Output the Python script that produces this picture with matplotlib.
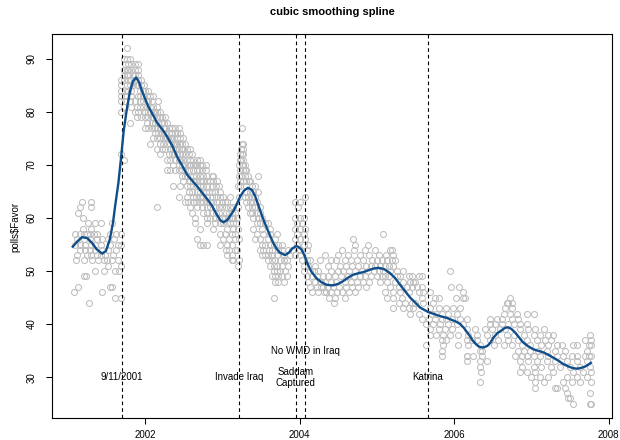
import matplotlib
matplotlib.use("Agg")
import matplotlib.pyplot as plt

plt.rcParams['font.family'] = ['Liberation Sans', 'DejaVu Sans']
plt.rcParams['lines.scale_dashes'] = False

# ---- data ----
# Poll values (integer "Favor") and the decimal-year dates at which each value occurs
favor_levels = [92, 90, 89, 88, 87, 86, 85, 84, 83, 82, 81, 80, 79, 78, 77, 76, 75, 74, 73, 72,
                71, 70, 69, 68, 67, 66, 65, 64, 63, 62, 61, 60, 59, 58, 57, 56, 55, 54, 53, 52,
                51, 50, 49, 48, 47, 46, 45, 44, 43, 42, 41, 40, 39, 38, 37, 36, 35, 34, 33, 32,
                31, 30, 29, 28, 27, 26, 25]
dates_by_level = [
    [2001.76],
    [2001.72, 2001.76, 2001.80],
    [2001.74, 2001.78, 2001.82, 2001.87, 2001.91],
    [2001.72, 2001.76, 2001.78, 2001.82, 2001.87, 2001.91],
    [2001.72, 2001.76, 2001.78, 2001.84, 2001.87, 2001.91],
    [2001.69, 2001.72, 2001.78, 2001.82, 2001.87, 2001.91, 2001.95],
    [2001.69, 2001.76, 2001.80, 2001.84, 2001.89, 2001.91, 2001.95, 2001.98],
    [2001.69, 2001.74, 2001.78, 2001.82, 2001.93, 2001.97, 2001.99, 2002.04],
    [2001.69, 2001.74, 2001.82, 2001.91, 2001.93, 2001.97, 2002.02, 2002.06, 2002.10],
    [2001.69, 2001.74, 2001.80, 2001.87, 2001.93, 2001.97, 2002.02, 2002.04, 2002.08, 2002.17],
    [2001.72, 2001.82, 2001.89, 2001.93, 2001.97, 2002.02, 2002.06, 2002.10, 2002.15],
    [2001.69, 2001.87, 2001.91, 2002.00, 2002.04, 2002.06, 2002.10, 2002.13, 2002.15, 2002.19],
    [2001.89, 2001.95, 2002.00, 2002.04, 2002.08, 2002.10, 2002.15, 2002.19, 2002.21, 2002.26],
    [2001.80, 2002.02, 2002.08, 2002.12, 2002.13, 2002.17, 2002.21, 2002.24, 2002.28],
    [2002.00, 2002.04, 2002.08, 2002.13, 2002.15, 2002.19, 2002.24, 2002.26, 2002.30, 2002.34,
     2002.39, 2002.43, 2003.25],
    [2002.13, 2002.17, 2002.21, 2002.22, 2002.26, 2002.30, 2002.34, 2002.39, 2002.41, 2002.45],
    [2002.10, 2002.15, 2002.19, 2002.23, 2002.26, 2002.28, 2002.32, 2002.35, 2002.37, 2002.41,
     2002.45, 2002.49],
    [2002.06, 2002.19, 2002.23, 2002.28, 2002.32, 2002.36, 2002.39, 2002.41, 2002.45, 2002.47,
     2002.51, 2003.25, 2003.27],
    [2002.15, 2002.21, 2002.26, 2002.32, 2002.36, 2002.39, 2002.43, 2002.47, 2002.49, 2002.54,
     2002.58, 2003.24, 2003.27],
    [2001.69, 2002.19, 2002.30, 2002.34, 2002.37, 2002.41, 2002.45, 2002.47, 2002.51, 2002.56,
     2002.60, 2003.22, 2003.25, 2003.27],
    [2001.72, 2002.28, 2002.32, 2002.39, 2002.43, 2002.45, 2002.49, 2002.54, 2002.58, 2002.62,
     2002.67, 2002.71, 2003.22, 2003.24, 2003.27],
    [2002.36, 2002.43, 2002.47, 2002.51, 2002.56, 2002.58, 2002.62, 2002.64, 2002.67, 2002.71,
     2002.74, 2002.78, 2003.21, 2003.25, 2003.27, 2003.29],
    [2002.28, 2002.32, 2002.39, 2002.43, 2002.47, 2002.51, 2002.56, 2002.62, 2002.67, 2002.69,
     2002.73, 2002.78, 2003.23, 2003.27, 2003.29, 2003.31],
    [2002.47, 2002.51, 2002.54, 2002.58, 2002.62, 2002.66, 2002.71, 2002.75, 2002.80, 2002.86,
     2002.88, 2003.21, 2003.24, 2003.29, 2003.33, 2003.46],
    [2002.49, 2002.58, 2002.62, 2002.66, 2002.71, 2002.75, 2002.80, 2002.84, 2002.88, 2002.93,
     2003.22, 2003.27, 2003.31, 2003.34, 2003.36],
    [2002.36, 2002.45, 2002.54, 2002.58, 2002.62, 2002.67, 2002.71, 2002.75, 2002.80, 2002.86,
     2002.92, 2002.95, 2003.20, 2003.23, 2003.31, 2003.38, 2003.42],
    [2002.56, 2002.60, 2002.67, 2002.71, 2002.75, 2002.78, 2002.82, 2002.86, 2002.90, 2002.97,
     2003.31, 2003.36, 2003.40, 2003.46],
    [2002.43, 2002.54, 2002.62, 2002.66, 2002.71, 2002.75, 2002.80, 2002.86, 2002.92, 2002.97,
     2003.01, 2003.10, 2003.21, 2003.29, 2003.33, 2003.38, 2003.42, 2004.07],
    [2001.18, 2001.29, 2002.52, 2002.55, 2002.62, 2002.66, 2002.71, 2002.75, 2002.80, 2002.84,
     2002.88, 2002.93, 2002.99, 2003.03, 2003.06, 2003.31, 2003.35, 2003.40, 2003.44, 2003.94,
     2004.00],
    [2001.15, 2001.29, 2002.15, 2002.58, 2002.67, 2002.73, 2002.80, 2002.84, 2002.90, 2002.95,
     2002.99, 2003.04, 2003.10, 2003.14, 2003.20, 2003.33, 2003.38, 2003.42, 2003.48, 2003.98],
    [2001.13, 2002.60, 2002.75, 2002.80, 2002.86, 2002.91, 2002.95, 2003.04, 2003.08, 2003.12,
     2003.16, 2003.35, 2003.38, 2003.44, 2003.49],
    [2001.19, 2002.64, 2002.80, 2002.84, 2002.90, 2002.95, 2002.99, 2003.03, 2003.08, 2003.12,
     2003.14, 2003.19, 2003.40, 2003.46, 2003.51, 2003.94, 2004.00, 2004.05],
    [2001.26, 2001.35, 2001.42, 2001.57, 2002.64, 2002.80, 2002.90, 2002.97, 2003.01, 2003.06,
     2003.10, 2003.14, 2003.18, 2003.44, 2003.49, 2003.55, 2003.59, 2003.96, 2004.03],
    [2001.19, 2001.30, 2002.71, 2002.88, 2003.06, 2003.14, 2003.20, 2003.40, 2003.51, 2003.62,
     2003.94, 2004.00, 2004.07],
    [2001.09, 2001.15, 2001.20, 2001.24, 2001.28, 2001.33, 2001.37, 2001.54, 2001.62, 2001.69,
     2002.97, 2003.03, 2003.12, 2003.16, 2003.44, 2003.53, 2003.62, 2003.70, 2003.96, 2004.05,
     2005.08],
    [2001.11, 2001.20, 2001.28, 2001.37, 2001.44, 2001.52, 2001.60, 2002.67, 2003.01, 2003.08,
     2003.16, 2003.21, 2003.42, 2003.49, 2003.59, 2003.68, 2003.94, 2004.00, 2004.07, 2004.69],
    [2001.09, 2001.15, 2001.22, 2001.30, 2001.35, 2001.43, 2001.54, 2001.65, 2001.69, 2002.71,
     2002.75, 2002.80, 2002.97, 2003.06, 2003.12, 2003.51, 2003.55, 2003.62, 2003.66, 2003.72,
     2003.77, 2003.96, 2004.05, 2004.11, 2004.71, 2004.89],
    [2001.15, 2001.22, 2001.28, 2001.35, 2001.44, 2001.52, 2001.62, 2003.04, 2003.08, 2003.16,
     2003.19, 2003.49, 2003.53, 2003.60, 2003.64, 2003.72, 2003.77, 2003.85, 2003.90, 2004.00,
     2004.09, 2004.55, 2004.70, 2004.85, 2004.98, 2005.17, 2005.19],
    [2001.11, 2001.24, 2001.30, 2001.37, 2001.42, 2001.48, 2001.58, 2003.06, 2003.12, 2003.51,
     2003.55, 2003.59, 2003.64, 2003.70, 2003.79, 2003.87, 2003.94, 2004.00, 2004.33, 2004.50,
     2004.62, 2004.78, 2004.90, 2005.02, 2005.12, 2005.21],
    [2001.10, 2001.20, 2001.31, 2001.39, 2001.46, 2001.50, 2001.57, 2001.64, 2003.12, 2003.14,
     2003.21, 2003.59, 2003.64, 2003.68, 2003.74, 2003.79, 2003.83, 2004.03, 2004.09, 2004.13,
     2004.26, 2004.40, 2004.47, 2004.58, 2004.66, 2004.74, 2004.82, 2004.94, 2005.00, 2005.06,
     2005.13, 2005.19, 2005.23],
    [2001.52, 2001.69, 2003.20, 2003.62, 2003.66, 2003.70, 2003.77, 2003.85, 2004.05, 2004.11,
     2004.20, 2004.37, 2004.52, 2004.60, 2004.68, 2004.76, 2004.86, 2004.92, 2004.98, 2005.04,
     2005.10, 2005.15, 2005.21],
    [2001.35, 2001.46, 2001.61, 2001.66, 2003.66, 2003.70, 2003.74, 2003.81, 2004.05, 2004.13,
     2004.18, 2004.24, 2004.41, 2004.49, 2004.56, 2004.64, 2004.72, 2004.80, 2004.88, 2004.96,
     2005.02, 2005.08, 2005.17, 2005.26, 2005.34, 2005.95],
    [2001.20, 2001.23, 2003.64, 2003.68, 2003.72, 2003.77, 2003.83, 2004.09, 2004.16, 2004.22,
     2004.30, 2004.37, 2004.45, 2004.53, 2004.62, 2004.70, 2004.78, 2004.84, 2004.92, 2005.00,
     2005.06, 2005.10, 2005.15, 2005.26, 2005.30, 2005.41, 2005.45, 2005.54, 2005.58],
    [2003.68, 2003.72, 2003.79, 2004.11, 2004.20, 2004.26, 2004.28, 2004.33, 2004.40, 2004.47,
     2004.58, 2004.66, 2004.74, 2004.82, 2004.90, 2005.04, 2005.13, 2005.23, 2005.34, 2005.43,
     2005.47, 2005.49],
    [2001.13, 2001.54, 2001.57, 2004.13, 2004.22, 2004.28, 2004.30, 2004.36, 2004.43, 2004.51,
     2004.60, 2004.68, 2004.76, 2004.86, 2005.17, 2005.28, 2005.39, 2005.45, 2005.52, 2005.58,
     2005.96, 2006.06],
    [2001.07, 2001.44, 2004.16, 2004.24, 2004.31, 2004.34, 2004.41, 2004.48, 2004.55, 2004.64,
     2004.72, 2005.10, 2005.21, 2005.30, 2005.41, 2005.54, 2005.60, 2005.69, 2006.11],
    [2001.61, 2001.68, 2003.66, 2004.38, 2004.46, 2004.58, 2005.13, 2005.21, 2005.32, 2005.58,
     2005.75, 2005.80, 2006.02, 2006.12, 2006.14, 2006.72],
    [2001.27, 2004.44, 2005.28, 2005.36, 2005.45, 2005.49, 2005.60, 2005.73, 2006.68, 2006.70,
     2006.75],
    [2005.21, 2005.34, 2005.41, 2005.47, 2005.69, 2005.80, 2005.90, 2005.99, 2006.08, 2006.66,
     2006.75],
    [2005.43, 2005.54, 2005.71, 2005.77, 2005.84, 2005.92, 2006.03, 2006.64, 2006.72, 2006.81,
     2006.94, 2007.03],
    [2005.58, 2005.67, 2005.75, 2005.84, 2005.90, 2005.97, 2006.08, 2006.16, 2006.47, 2006.55,
     2006.62, 2006.75, 2006.83],
    [2005.64, 2005.73, 2005.82, 2005.92, 2006.03, 2006.12, 2006.47, 2006.53, 2006.62, 2006.70,
     2006.77, 2006.85, 2006.94],
    [2005.69, 2005.80, 2005.88, 2005.97, 2006.16, 2006.27, 2006.40, 2006.49, 2006.59, 2006.66,
     2006.85, 2006.96, 2007.05, 2007.16],
    [2005.69, 2005.77, 2005.86, 2005.95, 2006.05, 2006.18, 2006.29, 2006.42, 2006.53, 2006.68,
     2006.77, 2006.90, 2007.03, 2007.11, 2007.22, 2007.28, 2007.76],
    [2005.84, 2005.90, 2006.16, 2006.23, 2006.29, 2006.47, 2006.57, 2006.70, 2006.83, 2006.94,
     2007.07, 2007.18, 2007.26, 2007.70, 2007.77],
    [2005.64, 2005.86, 2006.05, 2006.18, 2006.34, 2006.51, 2006.64, 2006.75, 2006.88, 2006.98,
     2007.13, 2007.22, 2007.33, 2007.39, 2007.54, 2007.59, 2007.74, 2007.77],
    [2005.84, 2006.33, 2006.36, 2006.83, 2006.90, 2006.98, 2007.09, 2007.20, 2007.31, 2007.44,
     2007.72],
    [2005.84, 2006.16, 2006.17, 2006.25, 2006.36, 2006.79, 2006.88, 2006.94, 2007.03, 2007.11,
     2007.22, 2007.33, 2007.41, 2007.52, 2007.59, 2007.70, 2007.74, 2007.77],
    [2006.17, 2006.34, 2006.42, 2006.85, 2006.96, 2007.07, 2007.20, 2007.31, 2007.46, 2007.59,
     2007.72],
    [2006.34, 2006.88, 2007.03, 2007.13, 2007.26, 2007.37, 2007.50, 2007.63, 2007.76],
    [2006.35, 2006.85, 2006.94, 2007.05, 2007.28, 2007.54, 2007.67, 2007.77],
    [2007.00, 2007.11, 2007.22, 2007.46, 2007.59, 2007.72],
    [2006.34, 2007.05, 2007.16, 2007.41, 2007.52, 2007.63, 2007.77],
    [2007.05, 2007.31, 2007.33, 2007.44],
    [2007.46, 2007.76],
    [2007.48, 2007.50],
    [2007.54, 2007.76, 2007.77],
]

# Smoothing-spline curve
spline_years = [2001.06, 2001.12, 2001.18, 2001.25, 2001.31, 2001.37, 2001.44, 2001.49, 2001.54,
                2001.58, 2001.61, 2001.65, 2001.69, 2001.72, 2001.76, 2001.80, 2001.84, 2001.88,
                2001.92, 2001.95, 2002.00, 2002.04, 2002.10, 2002.15, 2002.22, 2002.28, 2002.35,
                2002.41, 2002.48, 2002.54, 2002.61, 2002.67, 2002.74, 2002.80, 2002.86, 2002.92,
                2002.97, 2003.01, 2003.06, 2003.14, 2003.19, 2003.23, 2003.28, 2003.33, 2003.38,
                2003.42, 2003.46, 2003.49, 2003.54, 2003.58, 2003.65, 2003.70, 2003.74, 2003.81,
                2003.86, 2003.90, 2003.95, 2003.98, 2004.02, 2004.06, 2004.10, 2004.15, 2004.22,
                2004.28, 2004.35, 2004.43, 2004.50, 2004.56, 2004.63, 2004.69, 2004.76, 2004.82,
                2004.90, 2004.96, 2005.02, 2005.06, 2005.10, 2005.17, 2005.24, 2005.30, 2005.37,
                2005.43, 2005.50, 2005.56, 2005.61, 2005.66, 2005.74, 2005.82, 2005.90, 2005.95,
                2006.02, 2006.08, 2006.13, 2006.17, 2006.21, 2006.24, 2006.29, 2006.33, 2006.38,
                2006.43, 2006.47, 2006.50, 2006.56, 2006.62, 2006.66, 2006.70, 2006.74, 2006.79,
                2006.84, 2006.89, 2006.95, 2007.02, 2007.08, 2007.15, 2007.22, 2007.28, 2007.35,
                2007.41, 2007.48, 2007.54, 2007.59, 2007.63, 2007.68, 2007.72, 2007.77]
spline_values = [54.6, 55.6, 56.4, 56.2, 55.3, 54.1, 53.3, 53.8, 56.0,
                 59.0, 62.4, 66.5, 72.0, 76.5, 80.5, 83.8, 85.8, 86.5,
                 85.6, 84.2, 82.4, 81.0, 79.4, 78.0, 76.7, 75.4, 73.6,
                 71.6, 69.8, 68.2, 67.0, 66.0, 64.7, 63.6, 62.4, 60.8,
                 59.6, 59.2, 59.6, 61.3, 62.8, 64.1, 65.2, 65.7, 65.3,
                 64.2, 62.6, 61.3, 59.3, 57.9, 55.5, 54.2, 53.5, 53.0,
                 53.5, 54.2, 54.7, 54.6, 54.1, 53.0, 51.4, 49.9, 48.6,
                 47.9, 47.4, 47.3, 47.6, 48.1, 48.8, 49.3, 49.6, 49.8,
                 50.2, 50.5, 50.6, 50.5, 50.3, 49.6, 48.6, 47.4, 46.1,
                 45.0, 44.0, 43.1, 42.7, 42.3, 41.9, 41.5, 41.2, 40.9,
                 40.5, 40.0, 39.2, 38.4, 37.6, 36.9, 36.1, 35.7, 35.6,
                 35.9, 36.5, 37.3, 38.3, 38.9, 39.3, 39.4, 39.1, 38.4,
                 37.5, 36.6, 35.9, 35.3, 35.0, 34.7, 34.2, 33.7, 33.1,
                 32.5, 32.0, 31.7, 31.6, 31.7, 31.9, 32.2, 32.7]

# Events (vertical lines) and their label positions
event_dates = [2001.693, 2003.214, 2003.948, 2004.074, 2005.655]
event_labels = ["9/11/2001", "Invade Iraq", "Saddam\nCaptured", "No WMD in Iraq", "Katrina"]
event_label_y = [30, 30, 30, 35, 30]

x_ticks = [2002, 2004, 2006, 2008]
y_ticks = [30, 40, 50, 60, 70, 80, 90]

# ---- figure ----
W, H = 620, 440
fig = plt.figure(figsize=(W / 100, H / 100), dpi=100)
L, R, T, B = 52.3, 611.7, 34, 418
ax = fig.add_axes([L / W, 1 - B / H, (R - L) / W, (B - T) / H])

px, py = [], []
for lev, ds in zip(favor_levels, dates_by_level):
    for d in ds:
        px.append(d)
        py.append(lev)
ax.plot(px, py, linestyle='none', marker='o', markersize=4.3, markerfacecolor='none',
        markeredgecolor='#BEBEBE', markeredgewidth=0.75, zorder=2)

ax.plot(spline_years, spline_values, color='#104E8B', linewidth=1.7, zorder=4,
        solid_joinstyle='round')

for d, lab, ly in zip(event_dates, event_labels, event_label_y):
    ax.axvline(d, color='black', linewidth=0.8, linestyle=(0, (2.6, 2.2)), zorder=3)
    ax.text(d, ly, lab, ha='center', va='center', fontsize=7, color='black',
            linespacing=1.1, zorder=5)

ax.set_xlim(2000.795, 2008.04)
ax.set_ylim(22.3, 94.7)
ax.set_xticks(x_ticks)
ax.set_yticks(y_ticks)
ax.set_xticklabels([str(t) for t in x_ticks])
ax.set_yticklabels([str(t) for t in y_ticks])
ax.tick_params(axis='both', direction='out', length=4.6, width=0.75, labelsize=7, color='black')
ax.tick_params(axis='x', pad=3.8)
ax.tick_params(axis='y', pad=6.5)
for lbl in ax.get_yticklabels():
    lbl.set_rotation(90)
    lbl.set_va('center')
    lbl.set_ha('right')
for s in ax.spines.values():
    s.set_linewidth(0.8)
    s.set_color('black')

fig.text(15 / W, 1 - 226.5 / H, "polls$Favor", rotation=90, ha='center', va='center', fontsize=7)
fig.text((L + R) / 2 / W, 1 - 12 / H, "cubic smoothing spline", ha='center', va='center',
         fontsize=8, fontweight='bold')

fig.savefig("out.png", dpi=100)
